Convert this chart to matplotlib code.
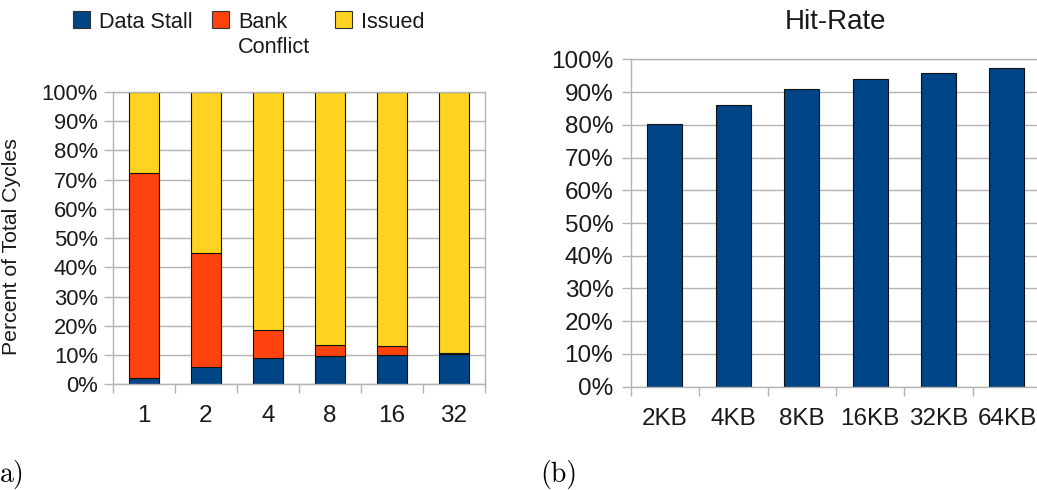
import matplotlib
matplotlib.use("Agg")
import matplotlib.pyplot as plt
from matplotlib.patches import Rectangle
import numpy as np

# Cycle breakdown per number of banks (percent of total cycles)
banks = ["1", "2", "4", "8", "16", "32"]
data_stall = [2.0, 5.8, 9.1, 9.8, 9.9, 10.5]
bank_conflict = [70.4, 39.1, 9.6, 3.8, 3.1, 0.2]
issued = [100 - a - b for a, b in zip(data_stall, bank_conflict)]

# Hit rate per cache size
cache_sizes = ["2KB", "4KB", "8KB", "16KB", "32KB", "64KB"]
hit_rate = [80.2, 85.9, 90.8, 93.9, 95.8, 97.4]

C_STALL = "#004586"
C_CONFLICT = "#ff420e"
C_ISSUED = "#ffd320"
GRID = "#b3b3b3"
TXT = "#1a1a1a"

plt.rcParams["font.family"] = ["Liberation Sans", "DejaVu Sans"]

W, H = 1037, 490
fig = plt.figure(figsize=(W / 100, H / 100), dpi=100)


def fx(x):
    return x / W


def fy(y):
    return 1 - y / H


def style_axes(ax, yfs, xfs, ypad, xpad):
    ax.set_xlim(-0.5, 5.5)
    ax.set_ylim(0, 100)
    ax.set_yticks(np.arange(0, 101, 10))
    ax.set_yticklabels([f"{v}%" for v in range(0, 101, 10)])
    ax.yaxis.grid(True, color=GRID, linewidth=1.0)
    ax.set_axisbelow(True)
    for s in ax.spines.values():
        s.set_color(GRID)
        s.set_linewidth(1.0)
    ax.tick_params(axis="y", length=6.5, width=1.0, color=GRID,
                   labelsize=yfs, labelcolor=TXT, pad=ypad)
    ax.set_xticks(np.arange(6))
    ax.set_xticks(np.arange(-0.5, 6.0, 1.0), minor=True)
    ax.tick_params(axis="x", which="major", length=0, labelsize=xfs,
                   labelcolor=TXT, pad=xpad)
    ax.tick_params(axis="x", which="minor", length=6.5, width=1.0, color=GRID)


# (a) stacked cycle breakdown
ax1 = fig.add_axes([fx(113), fy(384.3), fx(485 - 113), (384.3 - 92) / H])
x = np.arange(len(banks))
kw = dict(width=0.49, edgecolor="#111111", linewidth=0.8)
ax1.bar(x, data_stall, color=C_STALL, **kw)
ax1.bar(x, bank_conflict, bottom=data_stall, color=C_CONFLICT, **kw)
ax1.bar(x, issued, bottom=np.add(data_stall, bank_conflict), color=C_ISSUED, **kw)
style_axes(ax1, 15.8, 17.5, 4.3, 15)
ax1.set_xticklabels(banks)
ax1.set_ylabel("Percent of Total Cycles", fontsize=15.3, color=TXT)
ax1.yaxis.set_label_coords(fx(21 - 113) / fx(485 - 113), 0.47)

# legend drawn above panel (a)
legend_items = [(73, C_STALL, ["Data Stall"]),
                (212, C_CONFLICT, ["Bank", "Conflict"]),
                (335, C_ISSUED, ["Issued"])]
for lx, col, lines in legend_items:
    fig.add_artist(Rectangle((fx(lx), fy(28)), fx(17), 17 / H,
                             transform=fig.transFigure, facecolor=col,
                             edgecolor="#333333", linewidth=0.8))
    for i, line in enumerate(lines):
        fig.text(fx(lx + 26), fy(20 + 25 * i), line, fontsize=15.6,
                 color=TXT, ha="left", va="center_baseline")

# (b) hit rate
ax2 = fig.add_axes([fx(630.7), fy(386.7), fx(68.4 * 6), (386.7 - 59.3) / H])
ax2.bar(np.arange(len(cache_sizes)), hit_rate, width=0.51, color=C_STALL,
        edgecolor="#111111", linewidth=0.8)
style_axes(ax2, 17.5, 17.5, 6.0, 15)
ax2.set_xticklabels(cache_sizes)
ax2.set_title("Hit-Rate", fontsize=20, color=TXT, pad=22)

# panel labels
fig.text(fx(0), fy(474), "a)", fontsize=20, family="cmr10", ha="left",
         va="center", color="black")
fig.text(fx(540), fy(474), "(b)", fontsize=20, family="cmr10", ha="left",
         va="center", color="black")

fig.savefig("out.png", dpi=100)
